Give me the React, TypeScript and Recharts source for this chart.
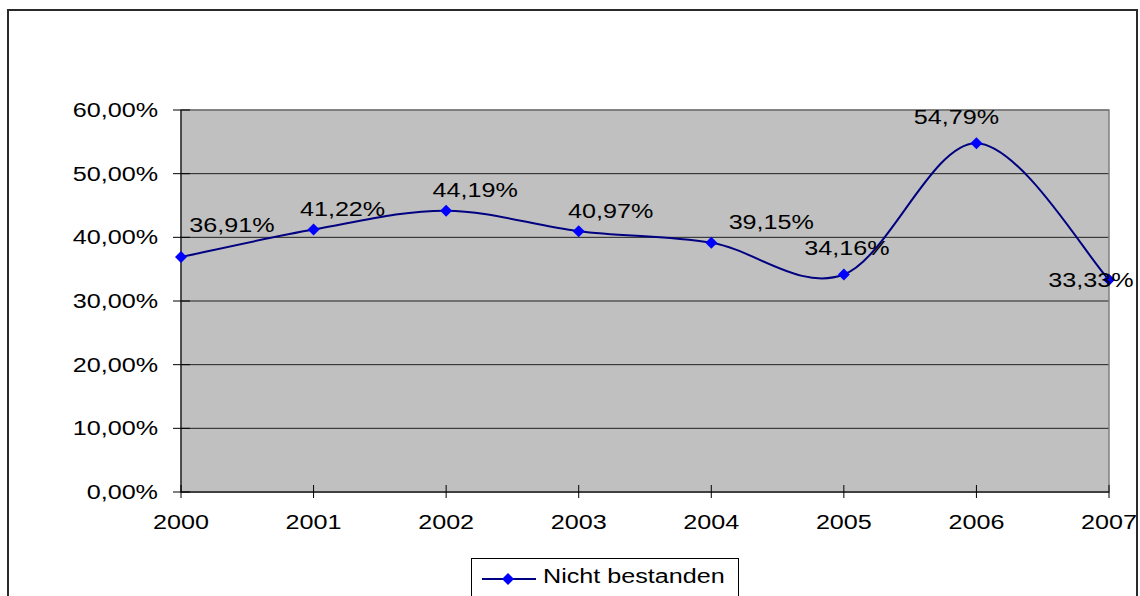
import React from "react";
import {
  CartesianGrid,
  LabelList,
  Line,
  LineChart,
  ReferenceArea,
  XAxis,
  YAxis,
} from "recharts";

const years = ["2000", "2001", "2002", "2003", "2004", "2005", "2006", "2007"];
const failRates = [36.91, 41.22, 44.19, 40.97, 39.15, 34.16, 54.79, 33.33];
const yTicks = [0, 10, 20, 30, 40, 50, 60];
const seriesName = "Nicht bestanden";

// where each value label sits relative to its point [dx, dy]
const labelOffsets: [number, number][] = [
  [51, -32],
  [29, -21],
  [29, -21],
  [32, -20],
  [60, -21],
  [3, -27],
  [-20, -26],
  [-18, 0],
];

const data = years.map((year, i) => ({ year, rate: failRates[i] }));

const FONT = "'Liberation Sans', Arial, sans-serif";
const FONT_SIZE = 19.5;
const STRETCH = 1.29;

const pct = (v: number) => `${v.toFixed(2).replace(".", ",")}%`;

// Bezier smoothing through every point (tangent = neighbour difference / 6)
const smoothCurve = (context: any) => {
  let pts: [number, number][] = [];
  return {
    areaStart() {},
    areaEnd() {},
    lineStart() {
      pts = [];
    },
    point(x: number, y: number) {
      pts.push([+x, +y]);
    },
    lineEnd() {
      if (!pts.length) return;
      context.moveTo(pts[0][0], pts[0][1]);
      for (let i = 0; i < pts.length - 1; i++) {
        const p0 = pts[Math.max(i - 1, 0)];
        const p1 = pts[i];
        const p2 = pts[i + 1];
        const p3 = pts[Math.min(i + 2, pts.length - 1)];
        context.bezierCurveTo(
          p1[0] + (p2[0] - p0[0]) / 6,
          p1[1] + (p2[1] - p0[1]) / 6,
          p2[0] - (p3[0] - p1[0]) / 6,
          p2[1] - (p3[1] - p1[1]) / 6,
          p2[0],
          p2[1]
        );
      }
    },
  };
};

const StretchedText = ({ x, y, anchor, children }: any) => (
  <g transform={`translate(${x},${y}) scale(${STRETCH},1)`}>
    <text x={0} y={0} dy={7} textAnchor={anchor} fontSize={FONT_SIZE} fontFamily={FONT} fill="#000">
      {children}
    </text>
  </g>
);

const YTick = ({ x, y, payload }: any) => (
  <g>
    <line x1={x + 15} x2={x + 32} y1={y} y2={y} stroke="#000" />
    <StretchedText x={x} y={y} anchor="end">
      {pct(payload.value)}
    </StretchedText>
  </g>
);

const XTick = ({ x, y, payload }: any) => (
  <g>
    <line x1={x} x2={x} y1={y - 7} y2={y + 6} stroke="#000" />
    <StretchedText x={x} y={y + 30} anchor="middle">
      {payload.value}
    </StretchedText>
  </g>
);

const Diamond = ({ cx, cy }: any) => (
  <polygon
    points={`${cx},${cy - 6} ${cx + 6},${cy} ${cx},${cy + 6} ${cx - 6},${cy}`}
    fill="#0000FF"
  />
);

const ValueLabel = (p: any) => {
  const vb = p.viewBox || p;
  const px = vb.x + (vb.width || 0) / 2;
  const py = vb.y + (vb.height || 0) / 2;
  const idx = p.index ?? failRates.indexOf(p.value);
  const [dx, dy] = labelOffsets[idx] || [0, -20];
  return (
    <StretchedText x={px + dx} y={py + dy} anchor="middle">
      {pct(p.value)}
    </StretchedText>
  );
};

export default function App() {
  return (
    <div
      style={{
        position: "absolute",
        left: 0,
        top: 0,
        width: 1140,
        height: 596,
        overflow: "hidden",
        background: "#fff",
      }}
    >
      <LineChart
        width={1140}
        height={596}
        data={data}
        margin={{ top: 110, right: 31, bottom: 74, left: 0 }}
      >
        <CartesianGrid vertical={false} fill="#C0C0C0" stroke="#202020" />
        <ReferenceArea
          x1="2000"
          x2="2007"
          y1={0}
          y2={60}
          fill="none"
          stroke="#808080"
          strokeWidth={1.5}
          ifOverflow="visible"
        />
        <XAxis
          dataKey="year"
          height={30}
          tickLine={false}
          tickSize={0}
          tickMargin={0}
          axisLine={{ stroke: "#404040", strokeWidth: 2 }}
          tick={<XTick />}
          interval={0}
        />
        <YAxis
          width={181}
          domain={[0, 60]}
          ticks={yTicks}
          tickLine={false}
          tickSize={8}
          tickMargin={15}
          axisLine={{ stroke: "#000" }}
          tick={<YTick />}
        />
        <Line
          dataKey="rate"
          name={seriesName}
          type={smoothCurve as any}
          stroke="#000080"
          strokeWidth={2}
          dot={<Diamond />}
          activeDot={false}
          isAnimationActive={false}
        >
          <LabelList dataKey="rate" content={<ValueLabel />} />
        </Line>
      </LineChart>

      <div
        style={{
          position: "absolute",
          left: 471,
          top: 558,
          width: 268,
          height: 50,
          border: "1px solid #000",
          boxSizing: "border-box",
          background: "#fff",
        }}
      >
        <svg width={60} height={40} style={{ position: "absolute", left: 8, top: 0 }}>
          <line x1={2} x2={56} y1={20} y2={20} stroke="#000080" strokeWidth={2} />
          <polygon points="28,14 34,20 28,26 22,20" fill="#0000FF" />
        </svg>
        <span
          style={{
            position: "absolute",
            left: 71,
            top: 6,
            fontFamily: FONT,
            fontSize: FONT_SIZE,
            whiteSpace: "nowrap",
            transform: `scaleX(${STRETCH})`,
            transformOrigin: "left center",
          }}
        >
          {seriesName}
        </span>
      </div>

      <div
        style={{
          position: "absolute",
          left: 7,
          top: 9,
          width: 1131,
          height: 620,
          border: "2px solid #2a2a2a",
          boxSizing: "border-box",
          pointerEvents: "none",
        }}
      />
    </div>
  );
}
